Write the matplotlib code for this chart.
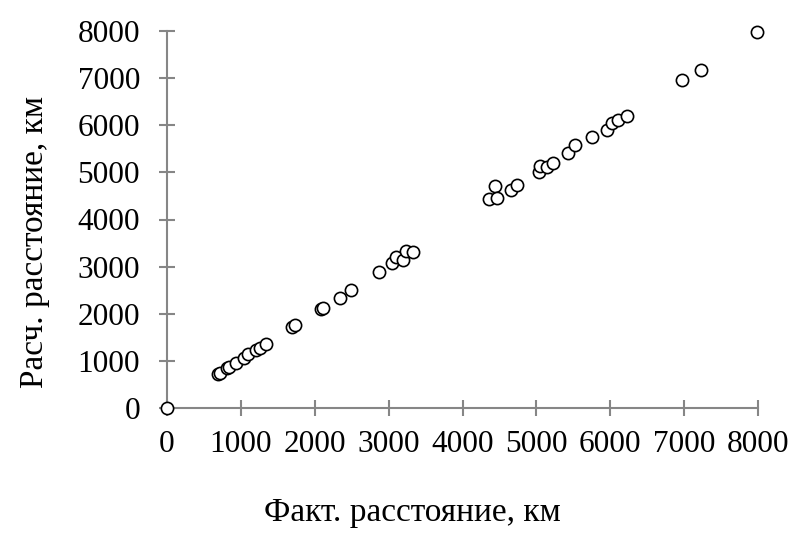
import matplotlib.pyplot as plt

# Fact vs. calculated distance, km
fact_km = [0, 695, 717, 807, 840, 933, 1042, 1096, 1204, 1258, 1340,
           1687, 1732, 2080, 2107, 2341, 2485, 2873, 3040, 3099, 3189,
           3234, 3333, 4362, 4438, 4461, 4651, 4732, 5038, 5047, 5138,
           5227, 5430, 5521, 5747, 5950, 6017, 6107, 6220, 6978, 7226,
           7993]
calc_km = [0, 721, 743, 842, 877, 962, 1069, 1146, 1231, 1267, 1359,
           1726, 1762, 2095, 2117, 2329, 2505, 2894, 3072, 3213, 3142,
           3340, 3319, 4431, 4713, 4452, 4628, 4735, 5017, 5138, 5124,
           5195, 5406, 5584, 5760, 5902, 6044, 6115, 6200, 6964, 7176,
           7977]
ticks = [0, 1000, 2000, 3000, 4000, 5000, 6000, 7000, 8000]

plt.rcParams['font.family'] = ['Liberation Serif', 'DejaVu Serif']
axis_gray = '#868686'

fig = plt.figure(figsize=(7.91, 5.41), dpi=100)
ax = fig.add_axes([167/791, 1 - 408/541, (758 - 167)/791, (408 - 31)/541])

ax.plot(fact_km, calc_km, linestyle='none', marker='o', markersize=8.8,
        markerfacecolor='white', markeredgecolor='black',
        markeredgewidth=1.2, clip_on=False, zorder=3)

ax.set_xlim(0, 8000)
ax.set_ylim(0, 8000)
ax.set_xticks(ticks)
ax.set_yticks(ticks)

for side in ['top', 'right']:
    ax.spines[side].set_visible(False)
for side in ['left', 'bottom']:
    ax.spines[side].set_color(axis_gray)
    ax.spines[side].set_linewidth(1.5)

ax.tick_params(axis='both', direction='inout', length=11, width=1.5,
               color=axis_gray, labelsize=22.5, labelcolor='black')
ax.tick_params(axis='x', pad=10)
ax.tick_params(axis='y', pad=14)

# axis titles
fig.text(412/791, 1 - 513/541, 'Факт. расстояние, км', fontsize=24,
         ha='center', va='center')
fig.text(35/791, 1 - 242/541, 'Расч. расстояние, км', fontsize=24,
         ha='center', va='center', rotation=90)

fig.savefig('out.png', dpi=100)
